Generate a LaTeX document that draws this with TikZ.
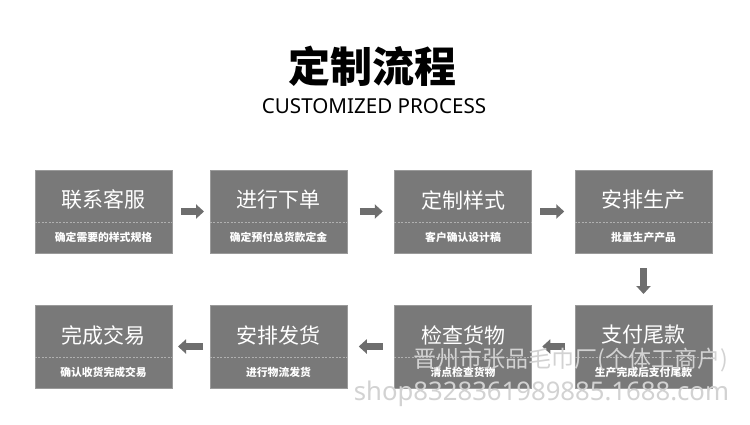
\documentclass[tikz,border=0pt]{standalone}
\usepackage{fontspec}
\usetikzlibrary{calc,arrows.meta}
\newfontfamily\cjk{Noto Sans CJK SC}
\newfontfamily\latin{Noto Sans}
\definecolor{boxgray}{HTML}{797979}
\definecolor{boxedge}{HTML}{9A9A9A}
\definecolor{arrgray}{HTML}{6E6E6E}
\definecolor{dashgray}{HTML}{B0B0B0}
\definecolor{wmgray}{HTML}{D2D2D2}
\begin{document}
\begin{tikzpicture}[x=1pt,y=-1pt,
  stepbox/.style={fill=boxgray, draw=boxedge, line width=0.6pt, minimum width=137pt, minimum height=83pt, inner sep=0pt},
  boxtitle/.style={text=white, font=\cjk\fontsize{21}{23}\selectfont, inner sep=0pt},
  boxsub/.style={text=white, font=\cjk\bfseries\fontsize{10.8}{12}\selectfont, inner sep=0pt},
  sepline/.style={draw=dashgray, line width=0.6pt, dash pattern=on 2pt off 1.5pt},
  arr/.style={draw=arrgray, line width=7pt, -{Triangle[width=14pt,length=8pt]}},
  wm/.style={text=wmgray, inner sep=0pt}
]
\useasboundingbox[fill=white] (0,0) rectangle (750,424);

% heading
\node[inner sep=0pt, font=\cjk\bfseries\fontsize{42}{46}\selectfont] (title) at (372,66) {定制流程};
\node[inner sep=0pt, font=\latin\fontsize{20.6}{24}\selectfont] (subtitle) at (374,106) {CUSTOMIZED PROCESS};

% boxes
\node[stepbox] (b1) at (103.5,211.5) {};
\node[stepbox] (b2) at (278.5,211.5) {};
\node[stepbox] (b3) at (463,211.5) {};
\node[stepbox] (b4) at (643.5,211.5) {};
\node[stepbox] (b8) at (643.5,346.5) {};
\node[stepbox] (b7) at (463,346.5) {};
\node[stepbox] (b6) at (278.5,346.5) {};
\node[stepbox] (b5) at (103.5,346.5) {};

% separators
\foreach \b in {b1,b2,b3,b4,b5,b6,b7,b8}{
  \draw[sepline] ($(\b.west)+(0,10.5)$) -- ($(\b.east)+(0,10.5)$);
}

% texts
\node[boxtitle] (t1) at ($(b1.center)+(0,-11.5)$) {联系客服};
\node[boxsub]   (s1) at ($(b1.center)+(0,25.5)$) {确定需要的样式规格};
\node[boxtitle] (t2) at ($(b2.center)+(0,-11.5)$) {进行下单};
\node[boxsub]   (s2) at ($(b2.center)+(0,25.5)$) {确定预付总货款定金};
\node[boxtitle] (t3) at ($(b3.center)+(0,-11.5)$) {定制样式};
\node[boxsub]   (s3) at ($(b3.center)+(0,25.5)$) {客户确认设计稿};
\node[boxtitle] (t4) at ($(b4.center)+(0,-11.5)$) {安排生产};
\node[boxsub]   (s4) at ($(b4.center)+(0,25.5)$) {批量生产产品};
\node[boxtitle] (t8) at ($(b8.center)+(0,-11.5)$) {支付尾款};
\node[boxsub]   (s8) at ($(b8.center)+(0,25.5)$) {生产完成后支付尾款};
\node[boxtitle] (t7) at ($(b7.center)+(0,-11.5)$) {检查货物};
\node[boxsub]   (s7) at ($(b7.center)+(0,25.5)$) {清点检查货物};
\node[boxtitle] (t6) at ($(b6.center)+(0,-11.5)$) {安排发货};
\node[boxsub]   (s6) at ($(b6.center)+(0,25.5)$) {进行物流发货};
\node[boxtitle] (t5) at ($(b5.center)+(0,-11.5)$) {完成交易};
\node[boxsub]   (s5) at ($(b5.center)+(0,25.5)$) {确认收货完成交易};

% arrows
\draw[arr] ($(b1.east)!0.5!(b2.west)+(-10,0)$) -- ($(b1.east)!0.5!(b2.west)+(13,0)$);
\draw[arr] ($(b2.east)!0.5!(b3.west)+(-11,0)$) -- ($(b2.east)!0.5!(b3.west)+(12,0)$);
\draw[arr] ($(b3.east)!0.5!(b4.west)+(-13,0)$) -- ($(b3.east)!0.5!(b4.west)+(11,0)$);
\draw[arr] ($(b4.south)!0.5!(b8.north)+(0,-11)$) -- ($(b4.south)!0.5!(b8.north)+(0,15)$);
\draw[arr] ($(b8.west)!0.5!(b7.east)+(12,0)$) -- ($(b8.west)!0.5!(b7.east)+(-11,0)$);
\draw[arr] ($(b7.west)!0.5!(b6.east)+(12,0)$) -- ($(b7.west)!0.5!(b6.east)+(-12,0)$);
\draw[arr] ($(b6.west)!0.5!(b5.east)+(12,0)$) -- ($(b6.west)!0.5!(b5.east)+(-13,0)$);

% watermark
\node[wm, font=\cjk\fontsize{23}{25}\selectfont] (wm1) at (570.5,360) {晋州市张品毛巾厂(个体工商户)};
\node[wm, font=\latin\fontsize{25.7}{28}\selectfont] (wm2) at (541.5,394) {shop8328361989885.1688.com};
\end{tikzpicture}
\end{document}
